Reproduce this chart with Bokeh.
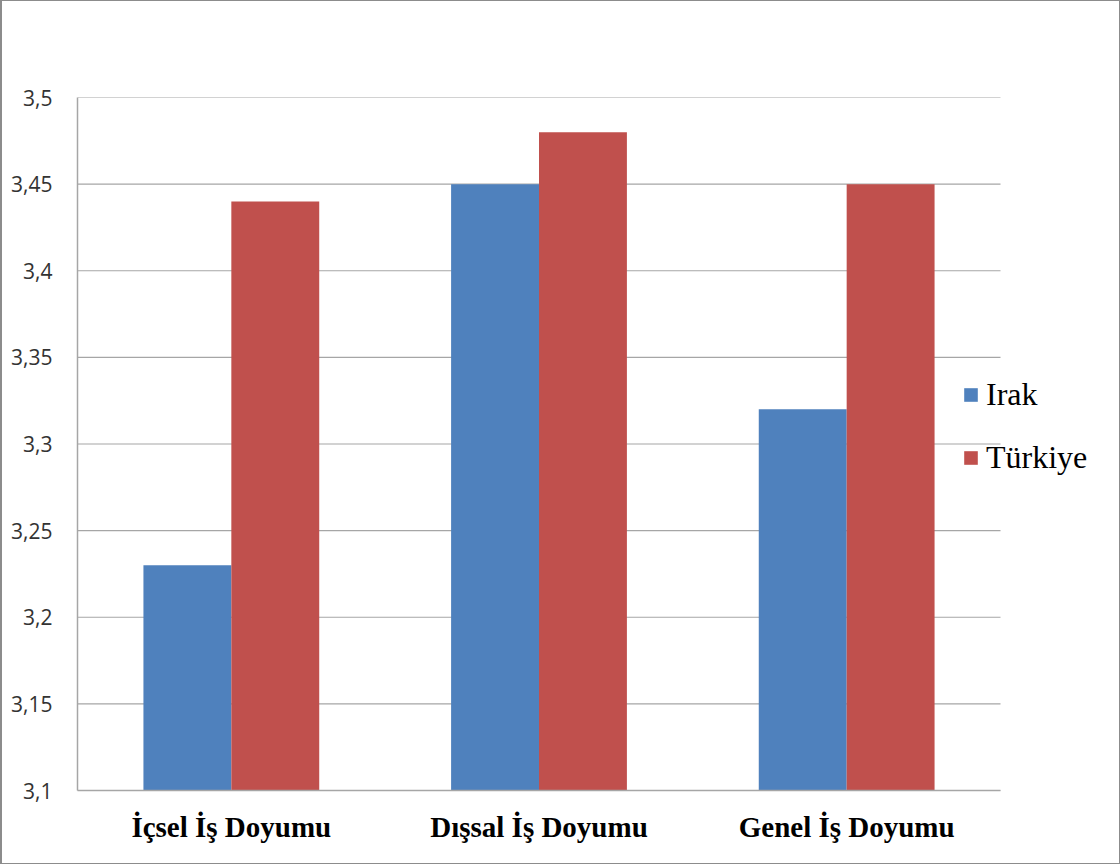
from bokeh.plotting import figure
from bokeh.models import ColumnDataSource, FixedTicker, Range1d
from bokeh.embed import file_html
from bokeh.resources import INLINE

# Job satisfaction means by dimension and country
categories = ["İçsel İş Doyumu", "Dışsal İş Doyumu", "Genel İş Doyumu"]
irak = [3.23, 3.45, 3.32]
turkiye = [3.44, 3.48, 3.45]
y_ticks = [3.1, 3.15, 3.2, 3.25, 3.3, 3.35, 3.4, 3.45, 3.5]
y_tick_labels = ["3,1", "3,15", "3,2", "3,25", "3,3", "3,35", "3,4", "3,45", "3,5"]

# category slots are one unit wide; bars sit either side of each slot centre
n = len(categories)
centers = [i + 0.5 for i in range(n)]
bar_w = 0.2857
source = ColumnDataSource(dict(
    x_irak=[c - bar_w / 2 for c in centers],
    x_tr=[c + bar_w / 2 for c in centers],
    irak=irak, turkiye=turkiye,
))

# the frame runs to the right edge so the legend can sit beside the bars;
# the axis line and grid lines stop at the last category slot
frame_px = 1120 - 77
slot_px = 923 / n
p = figure(
    x_range=Range1d(0, frame_px / slot_px),
    y_range=Range1d(y_ticks[0], y_ticks[-1]),
    width=1120, height=864,
    output_backend="svg", toolbar_location=None,
    min_border_left=77, min_border_right=0,
    min_border_top=97, min_border_bottom=74,
)
# thin grey frame around the whole chart, visible through a transparent border fill
p.styles = {"background-color": "white",
            "box-shadow": "inset 3px 2px 0 -1px #8c8c8c, inset -2px -2px 0 -1px #8c8c8c"}
p.outline_line_color = None
p.background_fill_color = None
p.border_fill_color = None
p.xgrid.grid_line_color = None
p.ygrid.grid_line_color = None

# horizontal grid lines across the category slots
p.segment(x0=[0] * len(y_ticks), x1=[n] * len(y_ticks), y0=y_ticks, y1=y_ticks,
          line_color="#a6a6a6", line_width=1.2)

p.vbar(x="x_irak", bottom=y_ticks[0], top="irak", width=bar_w, source=source,
       fill_color="#4f81bd", line_color=None, legend_label="Irak")
p.vbar(x="x_tr", bottom=y_ticks[0], top="turkiye", width=bar_w, source=source,
       fill_color="#c0504d", line_color=None, legend_label="Türkiye")

# y axis
p.yaxis.ticker = FixedTicker(ticks=y_ticks)
p.yaxis.major_label_overrides = dict(zip(y_ticks, y_tick_labels))
p.yaxis.major_label_text_font = "Open Sans"
p.yaxis.major_label_text_font_size = "21px"
p.yaxis.major_label_text_color = "#333333"
p.yaxis.major_label_standoff = 19
p.yaxis.major_tick_line_color = None
p.yaxis.minor_tick_line_color = None
p.yaxis.axis_line_color = "#a6a6a6"
p.yaxis.axis_line_width = 1.5

# x axis
p.xaxis.ticker = FixedTicker(ticks=centers)
p.xaxis.major_label_overrides = dict(zip(centers, categories))
p.xaxis.bounds = (0, n)
p.xaxis.major_label_text_font = "Liberation Serif"
p.xaxis.major_label_text_font_style = "bold"
p.xaxis.major_label_text_font_size = "29px"
p.xaxis.major_label_text_color = "#000000"
p.xaxis.major_label_standoff = 14
p.xaxis.major_tick_line_color = None
p.xaxis.minor_tick_line_color = None
p.xaxis.axis_line_color = "#a6a6a6"
p.xaxis.axis_line_width = 1.5

# legend beside the bars
lg = p.legend[0]
lg.location = (885, 314)
lg.border_line_color = None
lg.background_fill_alpha = 0
lg.padding = 0
lg.margin = 0
lg.glyph_width = 17
lg.glyph_height = 17
lg.label_height = 30
lg.spacing = 26
lg.label_standoff = 7
lg.label_text_font = "Liberation Serif"
lg.label_text_font_size = "32px"
lg.label_text_color = "#000000"

open("out.html", "w").write(file_html(p, INLINE))
